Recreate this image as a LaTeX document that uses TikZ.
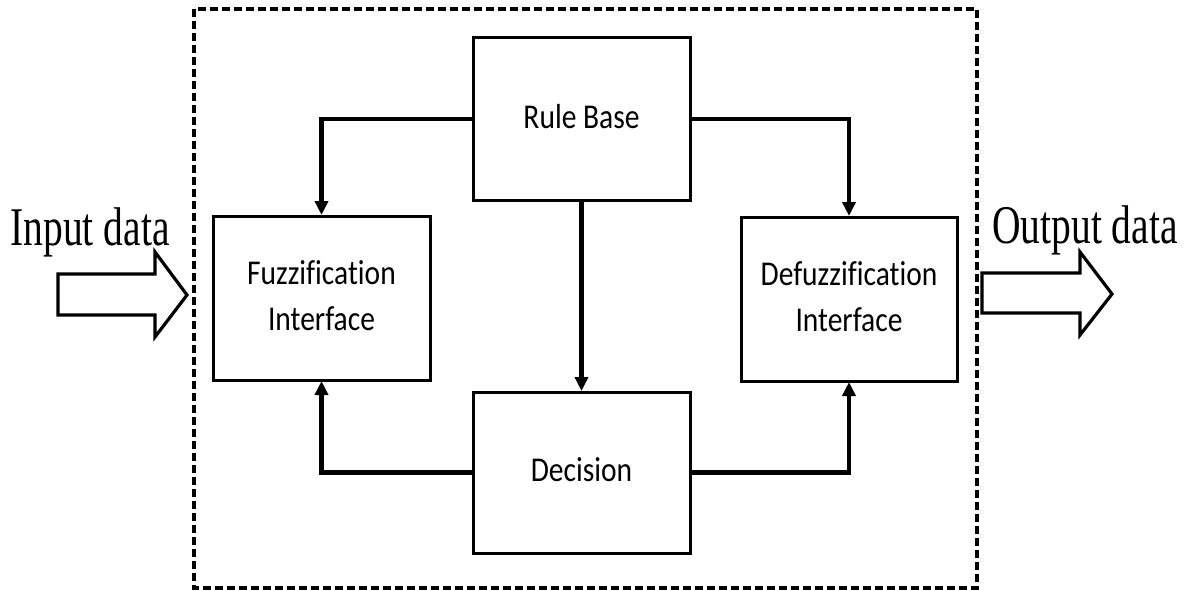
\documentclass[tikz,border=0pt]{standalone}
\usepackage{fontspec}
\setmainfont{Liberation Serif}
\newfontfamily\boxfont[Ligatures=NoCommon]{Carlito}
\usetikzlibrary{arrows.meta}
\newcommand\bxt[1]{\scalebox{1}[1.18]{\boxfont\fontsize{29.5}{39}\selectfont\begin{tabular}{@{}c@{}}#1\end{tabular}}}
\newcommand\iot[1]{\scalebox{1}[1.38]{\fontsize{39.5}{44}\selectfont #1}}
\tikzset{
  blk/.style={draw=black, line width=3pt, fill=white, inner sep=0pt, rectangle},
  conn/.style={line width=4.5pt, -{Triangle[length=14pt,width=13pt]}, shorten >=-0.5pt},
  frame/.style={line width=3.2pt, dash pattern=on 8pt off 4pt},
  bigarrow/.style={line width=3.2pt, line join=miter},
  iolabel/.style={anchor=base, inner sep=0pt}
}
\begin{document}
\begin{tikzpicture}[x=1pt,y=-1pt]
\useasboundingbox (0,0) rectangle (1188,591);
\draw[frame] (194,9) rectangle (977,588);
\node[blk, minimum width=217pt, minimum height=162pt] (rb) at (581.5,119) {\bxt{Rule Base}};
\node[blk, minimum width=217pt, minimum height=164pt] (fz) at (321.5,298) {\bxt{Fuzzification\\Interface}};
\node[blk, minimum width=216pt, minimum height=164pt] (dz) at (849,299) {\bxt{Defuzzification\\Interface}};
\node[blk, minimum width=217pt, minimum height=161pt] (dc) at (581.5,472.5) {\bxt{Decision}};
\draw[conn] (rb.west) -| (fz.north);
\draw[conn] (rb.east) -| (dz.north);
\draw[conn] (rb.south) -- (dc.north);
\draw[conn] (dc.west) -| (fz.south);
\draw[conn] (dc.east) -| (dz.south);
\node[iolabel] (in) at (90,245) {\iot{Input data}};
\node[iolabel] (out) at (1085,243) {\iot{Output data}};
\draw[bigarrow] (58,274) -- (155,274) -- (155,252) -- (187,295) -- (155,337) -- (155,315) -- (58,315) -- cycle;
\draw[bigarrow] (982,273) -- (1080,273) -- (1080,252) -- (1112,294) -- (1080,335) -- (1080,313) -- (982,313) -- cycle;
\end{tikzpicture}
\end{document}
